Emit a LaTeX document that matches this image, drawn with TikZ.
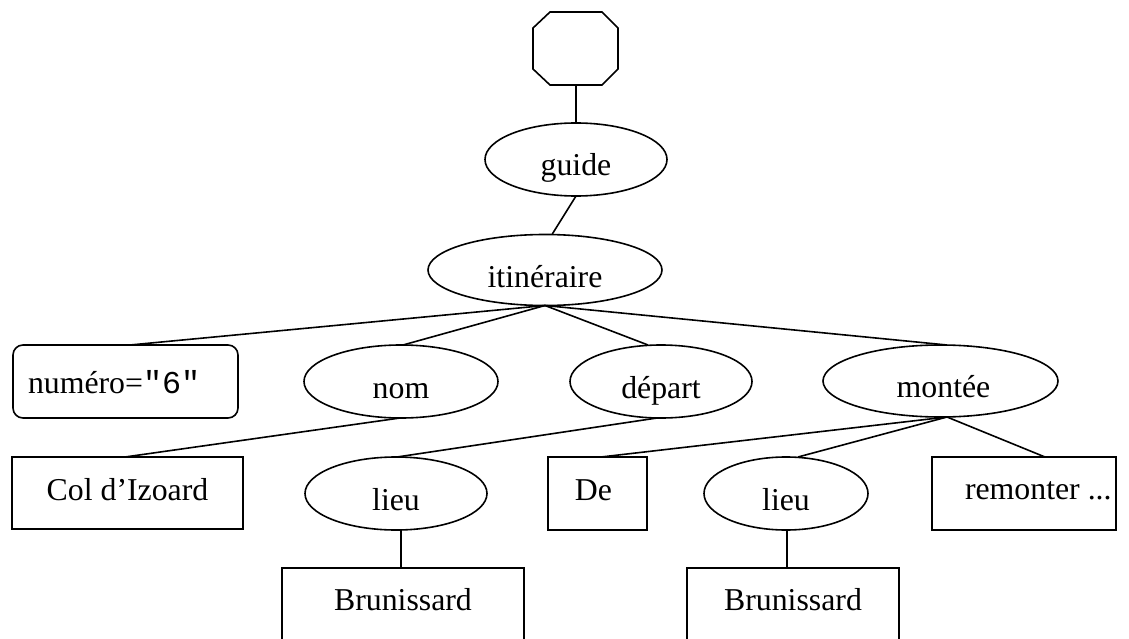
\documentclass[tikz,border=0pt]{standalone}
\usepackage{fontspec}
\setmainfont{Liberation Serif}
\newfontfamily\codefont{Liberation Mono}
\usetikzlibrary{shapes.geometric}
\tikzset{
  every node/.style={outer sep=0pt, inner sep=0pt},
  oval/.style={draw, ellipse, line width=1.6pt},
  box/.style={draw, rectangle, line width=1.6pt},
  rbox/.style={draw, rectangle, rounded corners=10pt, line width=1.6pt},
  txt/.style={font=\fontsize{31.8}{36}\selectfont, anchor=base},
  link/.style={line width=1.6pt},
}
\begin{document}
\begin{tikzpicture}[x=1pt,y=-1pt]
\useasboundingbox (0,0) rectangle (1129,639);
\clip (0,0) rectangle (1129,639);
% top octagon
\draw[line width=1.6pt] (550,12) -- (602,12) -- (618,28) -- (618,69) -- (602,85) -- (550,85) -- (533,69) -- (533,28) -- cycle;
\coordinate (oct) at (576,85);
% shapes
\node[oval, minimum width=182pt, minimum height=73pt] (guide) at (576,159.5) {};
\node[oval, minimum width=234pt, minimum height=71pt] (it) at (545,270) {};
\node[rbox, minimum width=225pt, minimum height=73pt] (num) at (125.5,381.5) {};
\node[oval, minimum width=194pt, minimum height=73pt] (nom) at (401,381.5) {};
\node[oval, minimum width=182pt, minimum height=73pt] (dep) at (661,381.5) {};
\node[oval, minimum width=235pt, minimum height=72pt] (mon) at (940.5,381) {};
\node[box, minimum width=231pt, minimum height=72pt] (col) at (127.5,493) {};
\node[oval, minimum width=182pt, minimum height=73pt] (lieuA) at (396,493.5) {};
\node[box, minimum width=99pt, minimum height=73pt] (de) at (597.5,493.5) {};
\node[oval, minimum width=164pt, minimum height=73pt] (lieuB) at (786,493.5) {};
\node[box, minimum width=184pt, minimum height=73pt] (rem) at (1024,493.5) {};
\node[box, minimum width=242pt, minimum height=73pt] (brA) at (403,604.5) {};
\node[box, minimum width=212pt, minimum height=73pt] (brB) at (793,604.5) {};
% texts
\node[txt] (guideT) at ([yshift=-16.5pt]guide.center) {guide};
\node[txt] (itT) at ([yshift=-17pt]it.center) {itinéraire};
\node[txt, anchor=base west] (numT) at (28,393) {numéro=\codefont "6"};
\node[txt] (nomT) at ([yshift=-16.5pt]nom.center) {nom};
\node[txt] (depT) at ([yshift=-16.5pt]dep.center) {départ};
\node[txt] (monT) at ([xshift=3pt,yshift=-16.5pt]mon.center) {montée};
\node[txt] (colT) at ([yshift=-7pt]col.center) {Col d’Izoard};
\node[txt] (lieuAT) at ([yshift=-16.5pt]lieuA.center) {lieu};
\node[txt] (deT) at ([xshift=-4pt,yshift=-6.5pt]de.center) {De};
\node[txt] (lieuBT) at ([yshift=-16.5pt]lieuB.center) {lieu};
\node[txt, anchor=base west] (remT) at (965,499) {remonter ...};
\node[txt] (brAT) at ([yshift=-5.5pt]brA.center) {Brunissard};
\node[txt] (brBT) at ([yshift=-5.5pt]brB.center) {Brunissard};
% connectors
\draw[link] (oct) -- (guide.north);
\draw[link] (guide.south) -- ([xshift=7pt]it.north);
\draw[link] (it.south) -- ([xshift=4.5pt]num.north);
\draw[link] (it.south) -- ([xshift=2pt]nom.north);
\draw[link] (it.south) -- ([xshift=-13pt]dep.north);
\draw[link] (it.south) -- ([xshift=6.5pt]mon.north);
\draw[link] ([xshift=-1pt]nom.south) -- ([xshift=-2.5pt]col.north);
\draw[link] ([xshift=-4pt]dep.south) -- ([xshift=1pt]lieuA.north);
\draw[link] ([xshift=6.5pt]mon.south) -- ([xshift=3.5pt]de.north);
\draw[link] ([xshift=6.5pt]mon.south) -- ([xshift=12pt]lieuB.north);
\draw[link] ([xshift=6.5pt]mon.south) -- ([xshift=21pt]rem.north);
\draw[link] ([xshift=5pt]lieuA.south) -- ([xshift=-2pt]brA.north);
\draw[link] ([xshift=1pt]lieuB.south) -- ([xshift=-6pt]brB.north);
\end{tikzpicture}
\end{document}
